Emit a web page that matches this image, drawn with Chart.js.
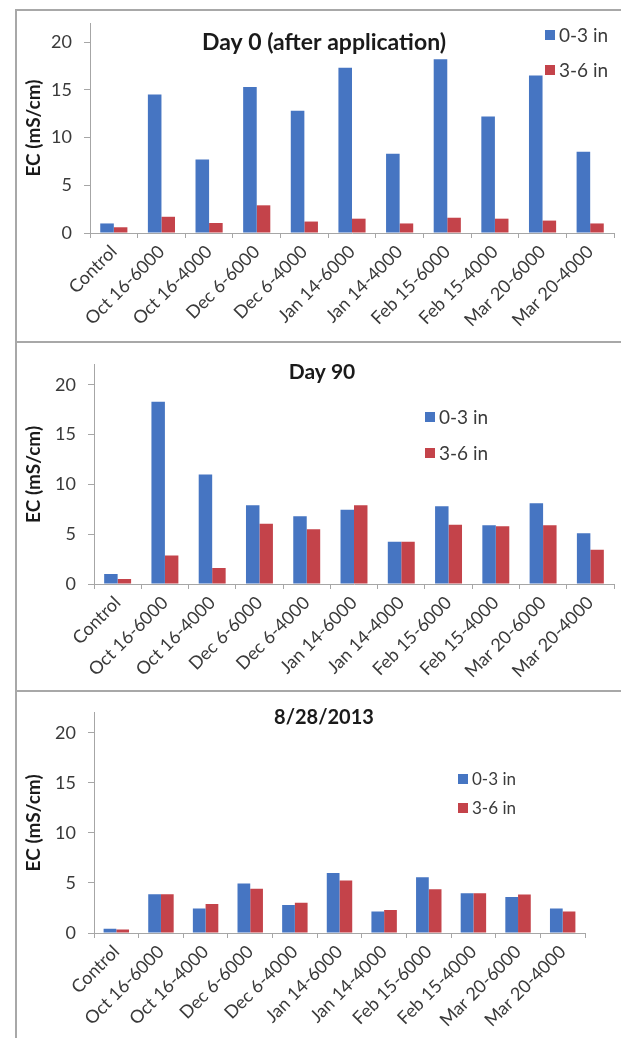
<!DOCTYPE html>
<html>
<head>
<meta charset="utf-8">
<script src="https://cdn.jsdelivr.net/npm/chart.js@4.4.1/dist/chart.umd.min.js"></script>
<style>
    html, body { margin: 0; padding: 0; background: #fff; overflow: hidden; }
    body { width: 621px; height: 1038px; position: relative; }
    .rule { position: absolute; background: #a8a8a8; }
    .panel { position: absolute; left: 0; width: 621px; }
</style>
</head>
<body>
<div class="rule" style="left:16px; top:9px; width:605px; height:2px;"></div>
<div class="rule" style="left:16px; top:341px; width:605px; height:2px;"></div>
<div class="rule" style="left:16px; top:690px; width:605px; height:2px;"></div>
<div class="rule" style="left:15px; top:9px; width:2px; height:1029px;"></div>

<div class="panel" style="top:0; height:342px;"><canvas id="day0Chart"></canvas></div>
<div class="panel" style="top:342px; height:348px;"><canvas id="day90Chart"></canvas></div>
<div class="panel" style="top:690px; height:348px;"><canvas id="augChart"></canvas></div>

<script>
const categories = [
    'Control', 'Oct 16-6000', 'Oct 16-4000', 'Dec 6-6000', 'Dec 6-4000',
    'Jan 14-6000', 'Jan 14-4000', 'Feb 15-6000', 'Feb 15-4000', 'Mar 20-6000', 'Mar 20-4000'
];
const seriesLabels = ['0-3 in', '3-6 in'];
const yTicks = [0, 5, 10, 15, 20];

const day0Shallow = [1.0, 14.5, 7.7, 15.3, 12.8, 17.3, 8.3, 18.2, 12.2, 16.5, 8.5];
const day0Deep = [0.6, 1.7, 1.05, 2.9, 1.2, 1.5, 1.0, 1.6, 1.5, 1.3, 1.0];

const day90Shallow = [1.0, 18.3, 11.0, 7.9, 6.8, 7.45, 4.25, 7.8, 5.9, 8.1, 5.1];
const day90Deep = [0.5, 2.85, 1.6, 6.05, 5.5, 7.9, 4.25, 5.95, 5.8, 5.9, 3.45];

const augShallow = [0.42, 3.87, 2.46, 4.95, 2.8, 6.0, 2.16, 5.57, 3.97, 3.6, 2.46];
const augDeep = [0.35, 3.87, 2.89, 4.43, 3.02, 5.25, 2.3, 4.36, 3.97, 3.84, 2.16];

const BLUE = '#4675c2';
const RED = '#c4434a';
const AXIS_GRAY = '#a6a6a6';
const TEXT_GRAY = '#3a3a3a';
const FONT = 'Lato, "Open Sans", sans-serif';

// title + legend sit inside the plot like the Excel overlay, so draw them by hand
const overlayText = {
    id: 'overlayText',
    afterDraw(chart, args, opts) {
        const { ctx } = chart;
        ctx.save();
        ctx.fillStyle = '#1a1a1a';
        ctx.font = `bold ${opts.titleSize}px ${FONT}`;
        ctx.textAlign = 'center';
        ctx.textBaseline = 'middle';
        ctx.fillText(opts.title, opts.titleX, opts.titleY);

        ctx.font = `${opts.legendSize}px ${FONT}`;
        ctx.textAlign = 'left';
        chart.data.datasets.forEach((ds, i) => {
            const y = opts.legendY + i * opts.legendGap;
            ctx.fillStyle = ds.backgroundColor;
            ctx.fillRect(opts.legendX, y - 5, 10, 10);
            ctx.fillStyle = TEXT_GRAY;
            ctx.fillText(ds.label, opts.legendX + 14, y + 1);
        });
        ctx.restore();
    }
};

const makePanel = (canvasId, shallow, deep, cfg) => {
    const canvas = document.getElementById(canvasId);
    return new Chart(canvas, {
        type: 'bar',
        data: {
            labels: categories,
            datasets: [
                { label: seriesLabels[0], data: shallow, backgroundColor: BLUE },
                { label: seriesLabels[1], data: deep, backgroundColor: RED }
            ]
        },
        options: {
            responsive: true,
            maintainAspectRatio: false,
            animation: false,
            categoryPercentage: 0.57,
            barPercentage: 1.0,
            layout: {
                padding: { left: 16, top: cfg.top, right: cfg.right, bottom: 0 }
            },
            scales: {
                x: {
                    grid: {
                        display: true,
                        drawOnChartArea: false,
                        drawTicks: true,
                        tickLength: 5,
                        color: AXIS_GRAY
                    },
                    border: { display: true, color: AXIS_GRAY, width: 1 },
                    ticks: {
                        color: TEXT_GRAY,
                        font: { family: FONT, size: 18 },
                        maxRotation: 45,
                        minRotation: 45,
                        autoSkip: false,
                        padding: 3
                    },
                    afterFit: (scale) => { scale.height = cfg.xHeight; }
                },
                y: {
                    min: 0,
                    max: 22,
                    afterBuildTicks: (axis) => {
                        axis.ticks = yTicks.map((v) => ({ value: v }));
                    },
                    grid: {
                        display: true,
                        drawOnChartArea: false,
                        drawTicks: true,
                        tickLength: 6,
                        color: AXIS_GRAY
                    },
                    border: { display: true, color: AXIS_GRAY, width: 1 },
                    ticks: {
                        color: TEXT_GRAY,
                        font: { family: FONT, size: 18 },
                        padding: 12
                    },
                    title: {
                        display: true,
                        text: 'EC (mS/cm)',
                        color: '#1a1a1a',
                        font: { family: FONT, size: 19, weight: 'bold' },
                        padding: { top: 6, bottom: 0 }
                    },
                    afterFit: (scale) => { scale.width = cfg.yWidth; }
                }
            },
            plugins: {
                legend: { display: false },
                tooltip: { enabled: false },
                overlayText: cfg.overlay
            }
        },
        plugins: [overlayText]
    });
};

makePanel('day0Chart', day0Shallow, day0Deep, {
    top: 23, right: 7, xHeight: 109, yWidth: 74,
    overlay: {
        title: 'Day 0 (after application)', titleSize: 23, titleX: 324, titleY: 43,
        legendSize: 19, legendX: 545, legendY: 35, legendGap: 35
    }
});

makePanel('day90Chart', day90Shallow, day90Deep, {
    top: 20, right: 7, xHeight: 106, yWidth: 78,
    overlay: {
        title: 'Day 90', titleSize: 21, titleX: 322, titleY: 30,
        legendSize: 19, legendX: 425, legendY: 75, legendGap: 36
    }
});

makePanel('augChart', augShallow, augDeep, {
    top: 22, right: 36, xHeight: 105, yWidth: 78,
    overlay: {
        title: '8/28/2013', titleSize: 20, titleX: 324, titleY: 28,
        legendSize: 17, legendX: 458, legendY: 89, legendGap: 29
    }
});
</script>
</body>
</html>
